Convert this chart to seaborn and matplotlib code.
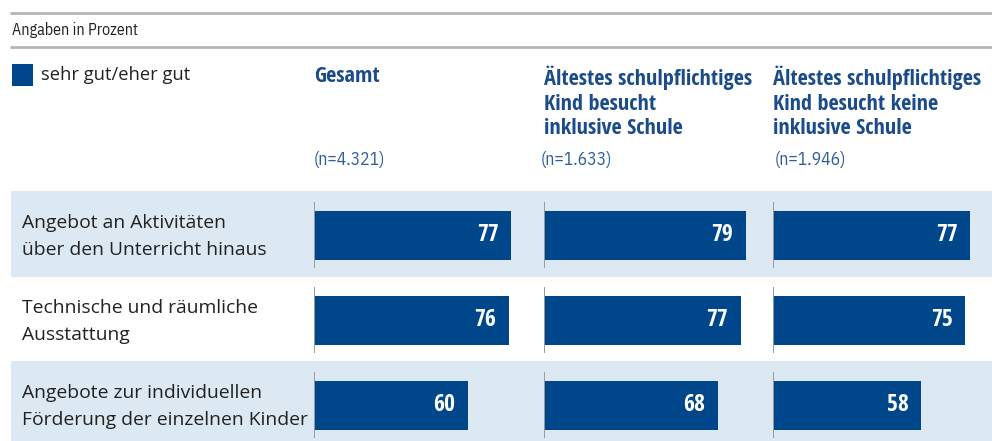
import matplotlib
matplotlib.use("Agg")
import matplotlib.pyplot as plt
import seaborn as sns
import pandas as pd

# ---------------- data ----------------
categories = [
    "Angebot an Aktivitäten\nüber den Unterricht hinaus",
    "Technische und räumliche\nAusstattung",
    "Angebote zur individuellen\nFörderung der einzelnen Kinder",
]
groups = [
    "Gesamt",
    "Ältestes schulpflichtiges\nKind besucht\ninklusive Schule",
    "Ältestes schulpflichtiges\nKind besucht keine\ninklusive Schule",
]
sample_sizes = ["(n=4.321)", "(n=1.633)", "(n=1.946)"]
values_gesamt = [77, 76, 60]
values_inklusiv = [79, 77, 68]
values_nicht_inklusiv = [77, 75, 58]
legend_label = "sehr gut/eher gut"
unit_note = "Angaben in Prozent"

series = [values_gesamt, values_inklusiv, values_nicht_inklusiv]

# ---------------- style ----------------
sns.set_theme(style="white")
MAIN = "Open Sans"
COND_BOLD = "Open Sans Condensed"
COND = "IBM Plex Sans Condensed"
plt.rcParams["font.family"] = [MAIN, "DejaVu Sans"]

BAR = "#00468a"
BAND = "#dde9f2"
HEAD = "#1b4b89"
NCOL = "#2f5f9a"
TXT = "#222222"
GRID = "#b5b5b5"

W, H = 992, 441
fig = plt.figure(figsize=(W / 100, H / 100), dpi=100)

# background axes in pixel coordinates
bg = fig.add_axes([0, 0, 1, 1])
bg.set_xlim(0, W)
bg.set_ylim(H, 0)
bg.axis("off")

bg.plot([10, W], [12.5, 12.5], color=GRID, lw=2, solid_capstyle="butt")
bg.plot([10, W], [46.5, 46.5], color=GRID, lw=2, solid_capstyle="butt")
bg.text(12, 30, unit_note, fontsize=11.4, family=[COND, "DejaVu Sans"],
        color=TXT, va="center", ha="left")

# legend
bg.add_patch(plt.Rectangle((12, 64), 21, 22, color=BAR, lw=0))
bg.text(41, 75, legend_label, fontsize=13.2, color=TXT, va="center", ha="left")

# bands
row_top = [191, 277, 361]
row_bot = [277, 361, 441]
for i in (0, 2):
    bg.fill_between([11, W], row_top[i], row_bot[i], color=BAND, lw=0)

row_centers = [235, 320, 405]
for lab, yc in zip(categories, row_centers):
    bg.text(22, yc + 1.5, lab, fontsize=13.9, color=TXT, va="center", ha="left",
            linespacing=1.6)

panel_x = [314, 543.5, 773]
n_x = [314, 541, 775]
for gx, g in zip(panel_x, groups):
    bg.text(gx, 66, g, fontsize=16, fontweight="bold", family=[COND_BOLD, "DejaVu Sans"],
            color=HEAD, va="top", ha="left", linespacing=1.2)
for nx, n in zip(n_x, sample_sizes):
    bg.text(nx, 160, n, fontsize=12.7, family=[COND, "DejaVu Sans"],
            color=NCOL, va="center", ha="left")

# ---------------- panels ----------------
px_per_unit = 2.56
xmax = 89.5
spacing = 85.0
ax_top, ax_bot = 191, 441
for gx, vals in zip(panel_x, series):
    left = gx / W
    width = xmax * px_per_unit / W
    ax = fig.add_axes([left, 1 - ax_bot / H, width, (ax_bot - ax_top) / H])
    ax.patch.set_alpha(0)
    df = pd.DataFrame({"cat": categories, "val": vals})
    sns.barplot(data=df, x="val", y="cat", orient="h", color=BAR, width=49 / spacing,
                saturation=1, linewidth=0, ax=ax)
    ax.set_xlim(0, xmax)
    ax.set_ylim((ax_bot - row_centers[0]) / spacing, (ax_top - row_centers[0]) / spacing)
    for i in range(len(categories)):
        ax.vlines(0, i - 0.39, i + 0.39, color="#999999", lw=1.4, zorder=3)
    for p, v in zip(ax.patches, vals):
        ax.annotate(f"{v}", (p.get_width(), p.get_y() + p.get_height() / 2),
                    xytext=(-9, 0), textcoords="offset points", ha="right", va="center",
                    color="white", fontsize=17, fontweight="bold",
                    family=[COND_BOLD, "DejaVu Sans"])
    ax.axis("off")

fig.savefig("out.png", dpi=100)
